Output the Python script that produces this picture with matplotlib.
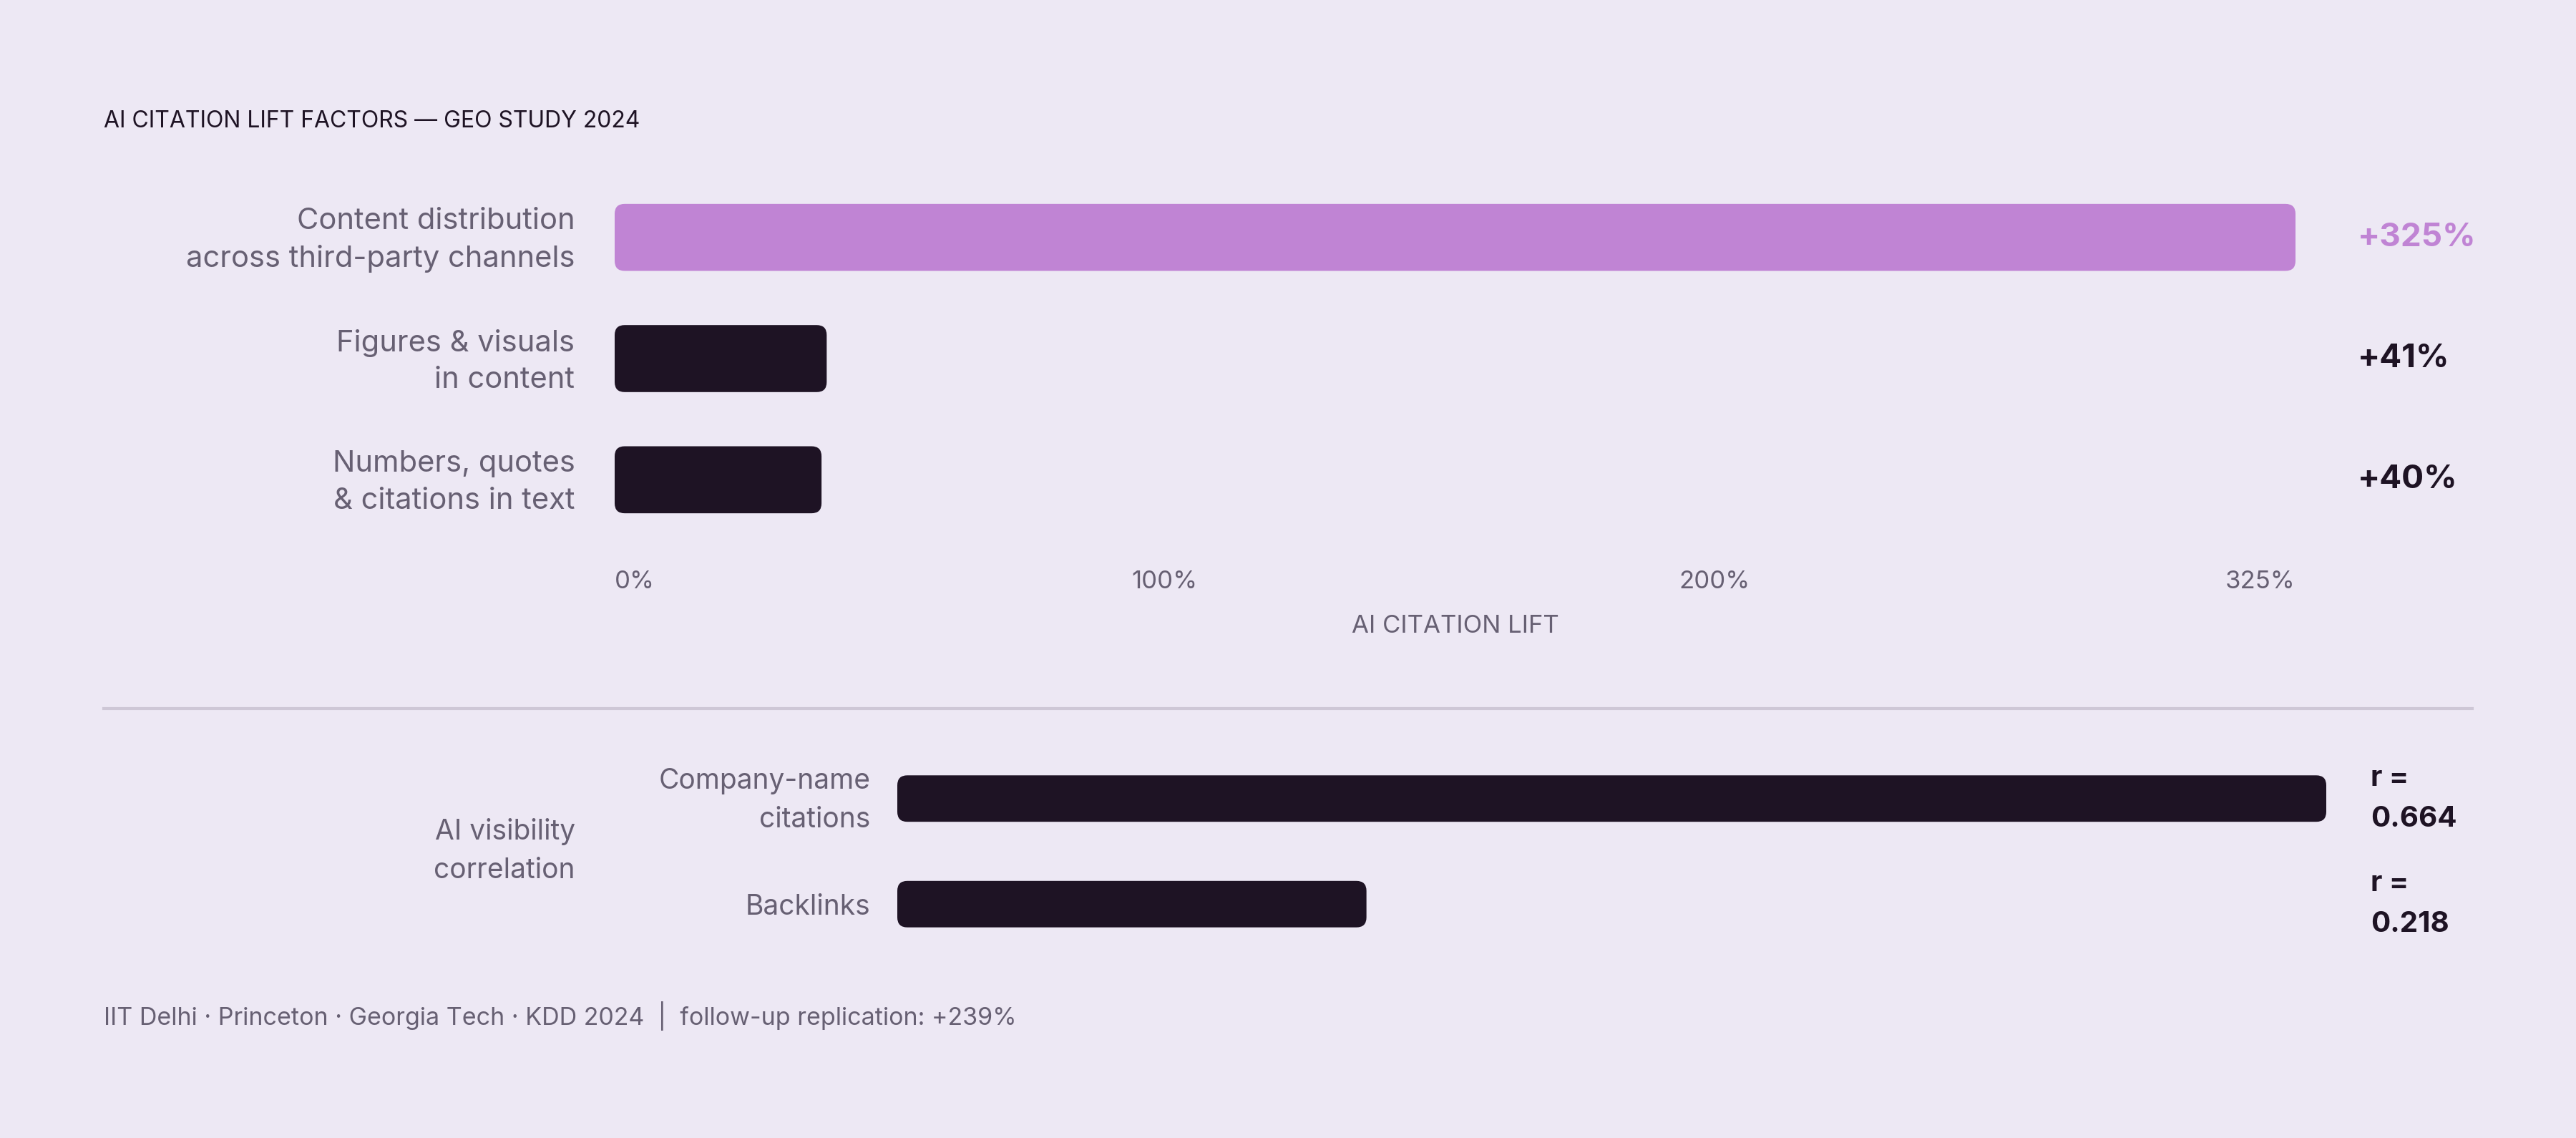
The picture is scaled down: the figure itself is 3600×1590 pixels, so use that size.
import matplotlib
matplotlib.use("Agg")
import matplotlib.pyplot as plt
from matplotlib.patches import FancyBboxPatch
import matplotlib.transforms as mtransforms

# ---------------- data ----------------
title = "AI CITATION LIFT FACTORS — GEO STUDY 2024"
lift_categories = ["Content distribution\nacross third-party channels",
                   "Figures & visuals\nin content",
                   "Numbers, quotes\n& citations in text"]
lift_values = [325, 41, 40]
lift_labels = ["+325%", "+41%", "+40%"]
lift_ticks = [0, 100, 200, 325]
lift_tick_labels = ["0%", "100%", "200%", "325%"]
lift_axis_label = "AI CITATION LIFT"

corr_group = "AI visibility\ncorrelation"
corr_categories = ["Company-name\ncitations", "Backlinks"]
corr_values = [0.664, 0.218]
corr_labels = ["r =\n0.664", "r =\n0.218"]

footer = "IIT Delhi · Princeton · Georgia Tech · KDD 2024  |  follow-up replication: +239%"

# ---------------- style ----------------
BG = "#EDE8F4"
PURPLE = "#C084D4"
DARK = "#1E1324"
GRAY = "#676073"
RULE = "#CEC7D6"

plt.rcParams["font.family"] = ["Inter", "DejaVu Sans"]

W, H = 3600, 1590
DPI = 100
fig = plt.figure(figsize=(W / DPI, H / DPI), dpi=DPI, facecolor=BG)


def fx(px):
    return px / W


def fy(py):
    return 1 - py / H


def axes_px(left, top, right, bottom):
    return [fx(left), fy(bottom), (right - left) / W, (bottom - top) / H]


def shift(label, dx_px, dy_px):
    label.set_transform(label.get_transform() +
                        mtransforms.ScaledTranslation(dx_px / DPI, dy_px / DPI,
                                                      fig.dpi_scale_trans))


def round_bars(ax, bars, radius_px):
    pos = ax.get_position()
    w_px = pos.width * W
    h_px = pos.height * H
    x0, x1 = ax.get_xlim()
    y0, y1 = ax.get_ylim()
    xpp = abs(x1 - x0) / w_px
    ypp = abs(y1 - y0) / h_px
    for rect in bars:
        x, y = rect.get_xy()
        w, h = rect.get_width(), rect.get_height()
        fc = rect.get_facecolor()
        rect.set_visible(False)
        p = FancyBboxPatch((x, y), w, h,
                           boxstyle=f"round,pad=0,rounding_size={radius_px * xpp}",
                           mutation_aspect=ypp / xpp, fc=fc, ec="none", zorder=3)
        ax.add_patch(p)


def clean(ax):
    ax.set_facecolor("none")
    for s in ax.spines.values():
        s.set_visible(False)


# ---------------- title ----------------
fig.text(fx(145), fy(169), title, ha="left", va="center", fontsize=23,
         color=DARK, fontweight="normal")

# ---------------- top chart ----------------
ax1 = fig.add_axes(axes_px(859, 247, 3208, 755))
clean(ax1)
ypos = list(range(len(lift_values)))
colors = [PURPLE] + [DARK] * (len(lift_values) - 1)
bars1 = ax1.barh(ypos, lift_values, height=0.553, color=colors)
ax1.set_xlim(0, max(lift_ticks))
ax1.set_ylim(len(lift_values) - 0.5, -0.5)
round_bars(ax1, bars1, 14)

ax1.set_yticks(ypos)
ax1.set_yticklabels(lift_categories, fontsize=30, color=GRAY, linespacing=1.44)
ax1.set_xticks(lift_ticks)
ax1.set_xticklabels(lift_tick_labels, fontsize=25, color=GRAY)
ax1.tick_params(axis="both", length=0)
ax1.tick_params(axis="y", pad=40)
ax1.tick_params(axis="x", pad=30)
for lab in ax1.get_yticklabels():
    if "\n" in lab.get_text():
        shift(lab, 0, 7)
xt = ax1.get_xticklabels()
xt[0].set_ha("left")
xt[-1].set_ha("right")
# justified placement of middle labels (as in the reference layout)
offs = [0, 46, 91, 0]
for lab, o in zip(xt, offs):
    if o:
        shift(lab, o, 0)

fig.text(fx((859 + 3208) / 2), fy(875), lift_axis_label, ha="center", va="center",
         fontsize=25, color=GRAY)

tr1 = mtransforms.blended_transform_factory(fig.transFigure, ax1.transData)
for i, (lab, c) in enumerate(zip(lift_labels, colors)):
    ax1.text(fx(3295), i, lab, transform=tr1, ha="left", va="center",
             fontsize=33, fontweight="bold", color=c)

# ---------------- separator ----------------
fig.add_artist(plt.Line2D([fx(145), fx(3455)], [fy(990), fy(990)],
                          color=RULE, linewidth=3))

# ---------------- bottom chart ----------------
ax2 = fig.add_axes(axes_px(1254, 1042, 3251, 1337))
clean(ax2)
ypos2 = list(range(len(corr_values)))
bars2 = ax2.barh(ypos2, corr_values, height=0.44, color=DARK)
ax2.set_xlim(0, max(corr_values))
ax2.set_ylim(len(corr_values) - 0.5, -0.5)
round_bars(ax2, bars2, 14)
ax2.set_xticks([])
ax2.set_yticks(ypos2)
ax2.set_yticklabels(corr_categories, fontsize=28, color=GRAY, linespacing=1.6)
ax2.tick_params(axis="both", length=0)
ax2.tick_params(axis="y", pad=27)
for lab in ax2.get_yticklabels():
    if "\n" in lab.get_text():
        shift(lab, 0, 10)

fig.text(fx(804), fy(1189), corr_group, ha="right", va="center", fontsize=28,
         color=GRAY, linespacing=1.6, multialignment="right")

tr2 = mtransforms.blended_transform_factory(fig.transFigure, ax2.transData)
for i, lab in enumerate(corr_labels):
    ax2.text(fx(3313), i, lab, transform=tr2, ha="left", va="center",
             fontsize=29, fontweight="bold", color=DARK, linespacing=1.7)

# ---------------- footer ----------------
fig.text(fx(145), fy(1419), footer, ha="left", va="center", fontsize=24.5, color=GRAY)

fig.savefig("out.png", dpi=DPI, facecolor=BG)
